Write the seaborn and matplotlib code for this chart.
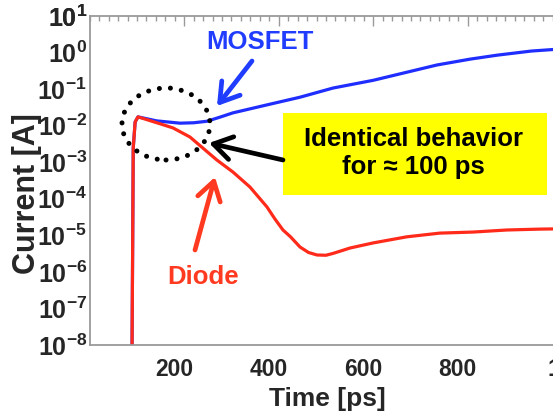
import numpy as np
import pandas as pd
import matplotlib
matplotlib.use("Agg")
import matplotlib.pyplot as plt
import matplotlib.transforms as mtransforms
from matplotlib.patches import Ellipse, Rectangle
from matplotlib.ticker import FixedLocator, LogLocator, FuncFormatter, MultipleLocator
import seaborn as sns

# ---- data ----
mosfet_time = [89, 92, 96, 102, 142, 191, 220, 248, 275, 303, 375, 445, 515, 600, 664, 735, 805,
               863, 935, 1000]
mosfet_current = [1e-9, 2.5e-3, 1.26e-2, 1.74e-2, 1.35e-2, 1.17e-2, 1.2e-2, 1.32e-2, 1.7e-2,
                  2.24e-2, 3.7e-2, 6.0e-2, 0.107, 0.174, 0.275, 0.457, 0.66, 0.85, 1.10, 1.26]

diode_time = [89, 92, 96, 102, 142, 176, 212, 234, 269, 303, 339, 375, 392, 409, 425, 445, 463,
              481, 500, 515, 551, 600, 671, 741, 812, 883, 953, 1000]
diode_current = [1e-9, 2.5e-3, 1.26e-2, 1.74e-2, 1.2e-2, 8.7e-3, 4.9e-3, 2.8e-3, 1.15e-3, 5.4e-4,
                 2.1e-4, 6.0e-5, 2.8e-5, 1.4e-5, 9.1e-6, 4.8e-6, 3.4e-6, 2.9e-6, 2.85e-6, 3.2e-6,
                 4.5e-6, 6.2e-6, 9.1e-6, 1.15e-5, 1.23e-5, 1.4e-5, 1.48e-5, 1.51e-5]

series_names = ["MOSFET", "Diode"]
series_colors = ["#1f2eff", "#ff2a1a"]
x_ticks = [200, 400, 600, 800, 1000]
y_exponents = list(range(-8, 2))

df = pd.concat([
    pd.DataFrame({"Time": mosfet_time, "Current": mosfet_current, "Device": "MOSFET"}),
    pd.DataFrame({"Time": diode_time, "Current": diode_current, "Device": "Diode"}),
], ignore_index=True)

sns.set_style("white")
plt.rcParams["font.family"] = ["Liberation Sans", "DejaVu Sans"]
plt.rcParams["font.weight"] = "bold"
plt.rcParams["mathtext.fontset"] = "custom"
plt.rcParams["mathtext.bf"] = "Liberation Sans:bold"
plt.rcParams["mathtext.rm"] = "Liberation Sans:bold"
plt.rcParams["mathtext.default"] = "bf"

W, H = 553, 415
fig = plt.figure(figsize=(W / 100, H / 100), dpi=100)
L, R, T, B = 89.8, 562.1, 16.0, 345.0
ax = fig.add_axes([L / W, (H - B) / H, (R - L) / W, (B - T) / H])

sns.lineplot(data=df, x="Time", y="Current", hue="Device", hue_order=series_names,
             palette=series_colors, linewidth=2.3, legend=False, ax=ax, sort=False)

ax.set_yscale("log")
ax.set_xlim(0, 1000)
ax.set_ylim(1e-8, 10)

ax.xaxis.set_major_locator(FixedLocator(x_ticks))
ax.xaxis.set_minor_locator(MultipleLocator(20))
ax.yaxis.set_major_locator(FixedLocator([10.0 ** e for e in y_exponents + [1]]))
ax.yaxis.set_minor_locator(LogLocator(base=10, subs=np.arange(2, 10), numticks=20))
ax.yaxis.set_major_formatter(FuncFormatter(lambda v, p: r"$10^{%d}$" % int(round(np.log10(v)))))
ax.yaxis.set_minor_formatter(FuncFormatter(lambda v, p: ""))

spine_col = "#9a9a9a"
for s in ax.spines.values():
    s.set_color(spine_col)
    s.set_linewidth(1.3)
ax.tick_params(which="both", direction="in", top=True, right=True, color=spine_col, width=1.0)
ax.tick_params(axis="x", which="major", length=7, labelsize=16.5, pad=9)
ax.tick_params(axis="x", which="minor", length=3.5)
ax.tick_params(axis="y", which="major", length=6, labelsize=18, pad=2)
ax.tick_params(axis="y", which="minor", length=3.5)

ax.set_xlabel("Time [ps]", fontsize=19, fontweight="bold")
ax.set_ylabel("Current [A]", fontsize=22, fontweight="bold")
ax.xaxis.set_label_coords((327 - L) / (R - L), (B - 387) / (B - T))
ax.yaxis.set_label_coords((42 - L) / (R - L), (B - 194) / (B - T))

# shift x tick labels like the reference
fig.canvas.draw()
for lab in ax.get_xticklabels():
    dx = 11 if lab.get_text() == "1000" else -10
    lab.set_transform(lab.get_transform() + mtransforms.ScaledTranslation(dx / 100, 0, fig.dpi_scale_trans))


def axc(px, py):
    return ((px - L) / (R - L), (B - py) / (B - T))


# dotted circle
cx, cy = axc(166, 124)
ax.add_patch(Ellipse((cx, cy), 88 / (R - L), 72 / (B - T), transform=ax.transAxes,
                     fill=False, edgecolor="black", linewidth=3.6, linestyle=(0, (0.01, 2.2)),
                     capstyle="round", zorder=5))

# yellow box
x0, y0 = axc(283, 195)
x1, y1 = axc(547, 113)
ax.add_patch(Rectangle((x0, y0), x1 - x0, y1 - y0, transform=ax.transAxes,
                       facecolor="#ffff00", edgecolor="none", zorder=4))
tx, ty = axc(413, 153)
ax.text(tx, ty, "Identical behavior\nfor \u2248 100 ps", transform=ax.transAxes, ha="center",
        va="center", fontsize=18.5, fontweight="bold", linespacing=1.2, color="black", zorder=6)

# labels
mx, my = axc(260, 42)
ax.text(mx, my, "MOSFET", transform=ax.transAxes, ha="center", va="center",
        fontsize=18.5, fontweight="bold", color="#1f3cff", zorder=6)
dx_, dy_ = axc(203, 277)
ax.text(dx_, dy_, "Diode", transform=ax.transAxes, ha="center", va="center",
        fontsize=18.5, fontweight="bold", color="#ff3a20", zorder=6)

# arrows
def arrow(tail, tip, color):
    ax.annotate("", xy=axc(*tip), xytext=axc(*tail), xycoords="axes fraction",
                textcoords="axes fraction",
                arrowprops=dict(arrowstyle="->,head_length=0.6,head_width=0.38", lw=3.4,
                                color=color, shrinkA=0, shrinkB=0, mutation_scale=22),
                zorder=7)

arrow((252, 61), (217, 106), "#1f3cff")
arrow((283, 160), (209, 143), "black")
arrow((195, 250), (215, 177), "#ff3a20")

fig.savefig("out.png", dpi=100)
